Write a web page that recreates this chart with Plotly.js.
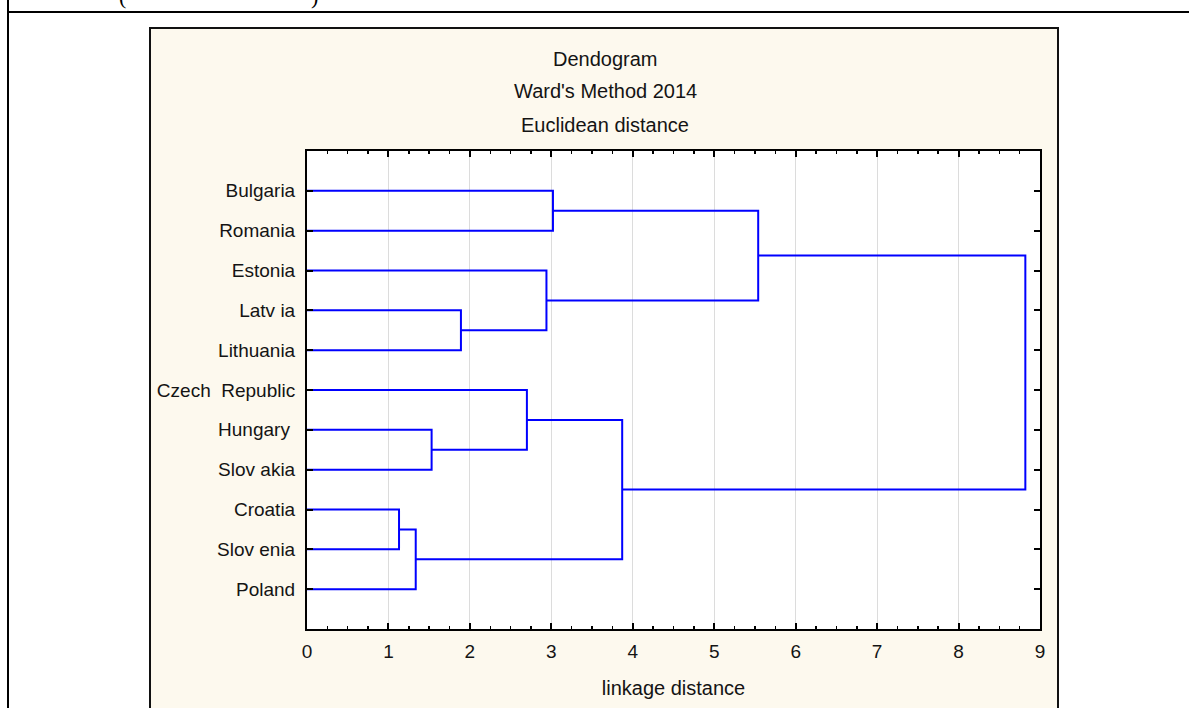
<!DOCTYPE html>
<html>
<head>
<meta charset="utf-8">
<script src="https://cdn.plot.ly/plotly-3.0.1.min.js"></script>
<style>
  html, body { margin:0; padding:0; background:#ffffff; width:1189px; height:708px; overflow:hidden; position:relative; }
  #vline { position:absolute; left:7px; top:0; width:2px; height:708px; background:#000; }
  #hline { position:absolute; left:7px; top:11px; width:1182px; height:2px; background:#000; }
  #panel { position:absolute; left:149px; top:27px; width:906px; height:700px; background:#fdf9ee; border:2px solid #111; }
  .paren { position:absolute; top:-16px; font-family:"Liberation Serif", serif; font-size:22px; color:#000; }
  #chart { position:absolute; left:0; top:0; width:1189px; height:708px; }
</style>
</head>
<body>
<div id="vline"></div>
<div id="hline"></div>
<span class="paren" style="left:119px">(</span>
<span class="paren" style="left:311px">)</span>
<div id="panel"></div>
<div id="chart"></div>
<script>
// Leaves (top to bottom)
const countries = ["Bulgaria", "Romania", "Estonia", "Latvia", "Lithuania",
  "Czech Republic", "Hungary", "Slovakia", "Croatia", "Slovenia", "Poland"];
const countryLabels = ["Bulgaria", "Romania", "Estonia", "Latv ia", "Lithuania",
  "Czech  Republic", "Hungary ", "Slov akia", "Croatia", "Slov enia", "Poland"];
// Merge steps: node ids 0..10 are leaves, merge k creates node 11+k
const mergeA = [0, 3, 2, 11, 6, 5, 8, 17, 16, 14];
const mergeB = [1, 4, 12, 13, 7, 15, 9, 10, 18, 19];
const mergeHeight = [3.02, 1.89, 2.94, 5.54, 1.53, 2.70, 1.13, 1.335, 3.87, 8.82];
const xTicks = [0, 1, 2, 3, 4, 5, 6, 7, 8, 9];
const titleLines = ["Dendogram", "Ward's Method 2014", "Euclidean distance"];

const nodeX = countries.map(() => 0);
const nodeY = countries.map((c, i) => i);
const traces = [];
for (let k = 0; k < mergeA.length; k++) {
  const a = mergeA[k], b = mergeB[k], h = mergeHeight[k];
  traces.push({
    type: 'scatter', mode: 'lines',
    x: [nodeX[a], h, h, nodeX[b]],
    y: [nodeY[a], nodeY[a], nodeY[b], nodeY[b]],
    line: { color: '#0000ff', width: 2 },
    hoverinfo: 'skip', showlegend: false
  });
  nodeX.push(h);
  nodeY.push((nodeY[a] + nodeY[b]) / 2);
}

const L = 307, R = 1040, T = 151, B = 629;
const pw = R - L, ph = B - T;
const py = q => (B - q) / ph;
const px = p => (p - L) / pw;
const fam = '"Liberation Sans", Arial, sans-serif';
const fnt = { family: fam, size: 19, color: '#141414' };
const tfnt = { family: fam, size: 20, color: '#141414' };
const titleY = [59, 91, 125];

const layout = {
  width: 1189, height: 708,
  margin: { l: L, r: 1189 - R, t: T, b: 708 - B, pad: 0 },
  paper_bgcolor: 'rgba(0,0,0,0)',
  plot_bgcolor: '#ffffff',
  showlegend: false,
  font: fnt,
  xaxis: {
    range: [0, 9], tickvals: xTicks, ticktext: xTicks.map(String),
    showgrid: true, gridcolor: '#dcdcdc', gridwidth: 1,
    zeroline: false, showline: true, linecolor: '#000', linewidth: 2,
    mirror: 'ticks', ticks: 'inside', ticklen: 6, tickwidth: 2, tickcolor: '#000',
    minor: { dtick: 0.25, ticks: 'inside', ticklen: 3, tickwidth: 1.5, tickcolor: '#000', showgrid: false },
    tickfont: fnt, ticklabelstandoff: 4,
    title: { text: 'linkage distance', font: tfnt, standoff: 20 }
  },
  yaxis: {
    range: [11, -1], tickvals: countries.map((c, i) => i), ticktext: countryLabels,
    showgrid: false, zeroline: false, showline: true, linecolor: '#000', linewidth: 2,
    mirror: 'ticks', ticks: 'inside', ticklen: 6, tickwidth: 2, tickcolor: '#000',
    tickfont: fnt, ticklabelstandoff: 6
  },
  annotations: titleLines.map((t, i) => ({
    text: t, x: px(605), y: py(titleY[i]), xref: 'paper', yref: 'paper', showarrow: false,
    xanchor: 'center', yanchor: 'middle', font: tfnt
  }))
};

Plotly.newPlot('chart', traces, layout, { displayModeBar: false, staticPlot: true });
</script>
</body>
</html>
